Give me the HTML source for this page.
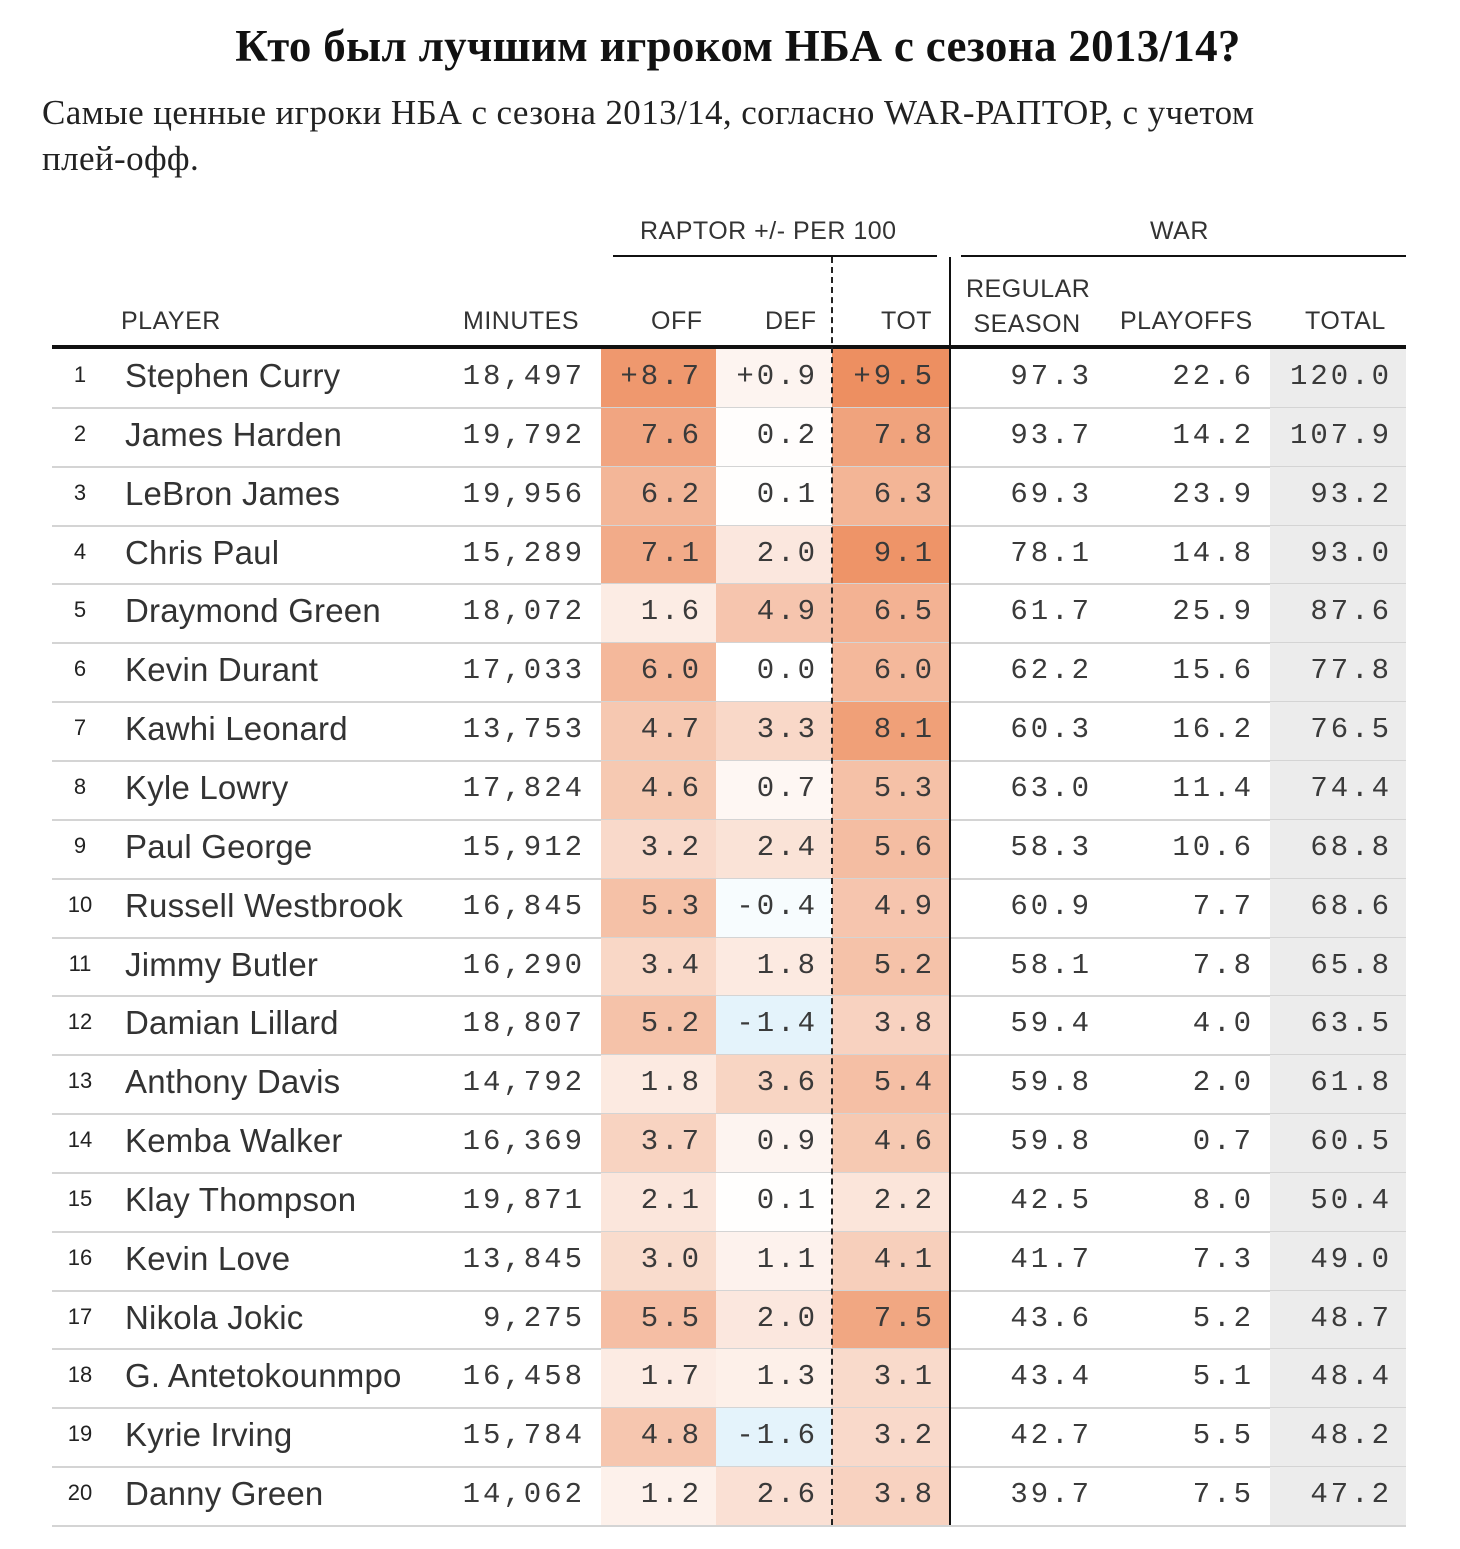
<!DOCTYPE html>
<html><head><meta charset="utf-8"><style>
body{margin:0;background:#fff;width:1460px;height:1549px;position:relative;overflow:hidden;font-family:"Liberation Sans",sans-serif;color:#222}
.title{position:absolute;left:0;width:1476px;top:20px;text-align:center;font:bold 45px "Liberation Serif","Noto Serif CJK SC",serif;color:#111;letter-spacing:0.3px}
.sub{position:absolute;left:42px;top:90px;width:1340px;font:35px/46px "Liberation Serif","Noto Serif CJK SC",serif;color:#222;letter-spacing:0.4px}
.h{position:absolute;font-size:25px;color:#333;letter-spacing:0.5px;white-space:nowrap}
.line{position:absolute;background:#111}
.cell{position:absolute;height:58px}
.t{position:absolute;white-space:nowrap}
.num{font:29px "Liberation Mono",monospace;letter-spacing:3px;color:#3a3a3a;text-align:right}
</style></head><body>
<div class="title">Кто был лучшим игроком НБА с сезона 2013/14?</div>
<div class="sub">Самые ценные игроки НБА с сезона 2013/14, согласно WAR-РАПТОР, с учетом <span style="white-space:nowrap">плей-офф.</span></div>
<div class="h" style="left:640px;top:217px">RAPTOR +/- PER 100</div>
<div class="h" style="left:1150px;top:217px">WAR</div>
<div class="line" style="left:613px;top:255px;width:324px;height:2px"></div>
<div class="line" style="left:961px;top:255px;width:445px;height:2px"></div>
<div class="h" style="left:121px;top:307px">PLAYER</div>
<div class="h" style="left:463px;top:307px">MINUTES</div>
<div class="h" style="left:651px;top:307px">OFF</div>
<div class="h" style="left:765px;top:307px">DEF</div>
<div class="h" style="left:881px;top:307px">TOT</div>
<div class="h" style="left:966px;top:272px;line-height:35px">REGULAR<br>&nbsp;SEASON</div>
<div class="h" style="left:1120px;top:307px">PLAYOFFS</div>
<div class="h" style="left:1305px;top:307px">TOTAL</div>
<div id="rows"></div>
<div class="line" style="left:52px;top:345px;width:1354px;height:4px"></div>
<div style="position:absolute;left:831px;top:257px;height:1268px;border-left:2px dashed #222"></div>
<div class="line" style="left:949px;top:257px;width:2px;height:1268px"></div>
<script>
const players=["Stephen Curry","James Harden","LeBron James","Chris Paul","Draymond Green","Kevin Durant","Kawhi Leonard","Kyle Lowry","Paul George","Russell Westbrook","Jimmy Butler","Damian Lillard","Anthony Davis","Kemba Walker","Klay Thompson","Kevin Love","Nikola Jokic","G. Antetokounmpo","Kyrie Irving","Danny Green"];
const minutes=["18,497","19,792","19,956","15,289","18,072","17,033","13,753","17,824","15,912","16,845","16,290","18,807","14,792","16,369","19,871","13,845","9,275","16,458","15,784","14,062"];
const off=[8.7,7.6,6.2,7.1,1.6,6.0,4.7,4.6,3.2,5.3,3.4,5.2,1.8,3.7,2.1,3.0,5.5,1.7,4.8,1.2];
const def=[0.9,0.2,0.1,2.0,4.9,0.0,3.3,0.7,2.4,-0.4,1.8,-1.4,3.6,0.9,0.1,1.1,2.0,1.3,-1.6,2.6];
const tot=[9.5,7.8,6.3,9.1,6.5,6.0,8.1,5.3,5.6,4.9,5.2,3.8,5.4,4.6,2.2,4.1,7.5,3.1,3.2,3.8];
const reg=[97.3,93.7,69.3,78.1,61.7,62.2,60.3,63.0,58.3,60.9,58.1,59.4,59.8,59.8,42.5,41.7,43.6,43.4,42.7,39.7];
const po=[22.6,14.2,23.9,14.8,25.9,15.6,16.2,11.4,10.6,7.7,7.8,4.0,2.0,0.7,8.0,7.3,5.2,5.1,5.5,7.5];
const total=[120.0,107.9,93.2,93.0,87.6,77.8,76.5,74.4,68.8,68.6,65.8,63.5,61.8,60.5,50.4,49.0,48.7,48.4,48.2,47.2];
const top0=349,rh=58.85;
function color(v){
  if(v<0){const f=Math.min(1,-v/1.4);return `rgb(${Math.round(255-27*f)},${Math.round(255-12*f)},${Math.round(255-4*f)})`;}
  const f=Math.min(1,v/9.5);
  return `rgb(${Math.round(255-18*f)},${Math.round(255-112*f)},${Math.round(255-158*f)})`;
}
function fmt(v,plus){let s=v.toFixed(1);if(plus&&v>0)s='+'+s;return s;}
const R=document.getElementById('rows');
players.forEach((p,i)=>{
  const y=top0+i*rh;
  const sep=document.createElement('div');sep.className='line';
  sep.style.cssText=`left:52px;top:${y+rh-1}px;width:1354px;height:2px;background:#d4d4d4`;
  
  
  const cells=[[601,115,off[i]],[716,116,def[i]],[832,118,tot[i]]];
  const nm=['off-cell','def-cell','tot-cell'];
  cells.forEach((c,k)=>{const d=document.createElement('div');d.className='cell';
    d.style.cssText=`left:${c[0]}px;top:${y}px;width:${c[1]}px;height:${rh}px;background:${color(c[2])}`;
    
    
    R.appendChild(d);});
  const g=document.createElement('div');g.className='cell';
  g.style.cssText=`left:1270px;top:${y}px;width:136px;height:${rh}px;background:#ececec`;
  
  
  R.appendChild(g);
  R.appendChild(sep);
  const ty=y+11;
  const rk=document.createElement('div');rk.className='t';
  rk.style.cssText=`left:60px;width:40px;text-align:center;top:${ty+2}px;font:22px "Liberation Sans",sans-serif;color:#222`;
  rk.textContent=i+1;
  
  
  R.appendChild(rk);
  const n=document.createElement('div');n.className='t';
  n.style.cssText=`left:125px;top:${ty-3}px;font-size:33px;color:#333;letter-spacing:0.2px`;
  n.textContent=p;
  
  
  R.appendChild(n);
  const vals=[[585,minutes[i],'minutes'],[702,fmt(off[i],i==0),'off-value'],[818,fmt(def[i],i==0),'def-value'],[935,fmt(tot[i],i==0),'tot-value'],[1092,fmt(reg[i]),'regular-season-war'],[1254,fmt(po[i]),'playoffs-war'],[1392,fmt(total[i]),'total-war']];
  vals.forEach(v=>{const d=document.createElement('div');d.className='t num';
    d.style.cssText+=`right:${1460-v[0]}px;top:${ty}px`;
    d.textContent=v[1];
    
    
    R.appendChild(d);});
});
</script>
</body></html>
